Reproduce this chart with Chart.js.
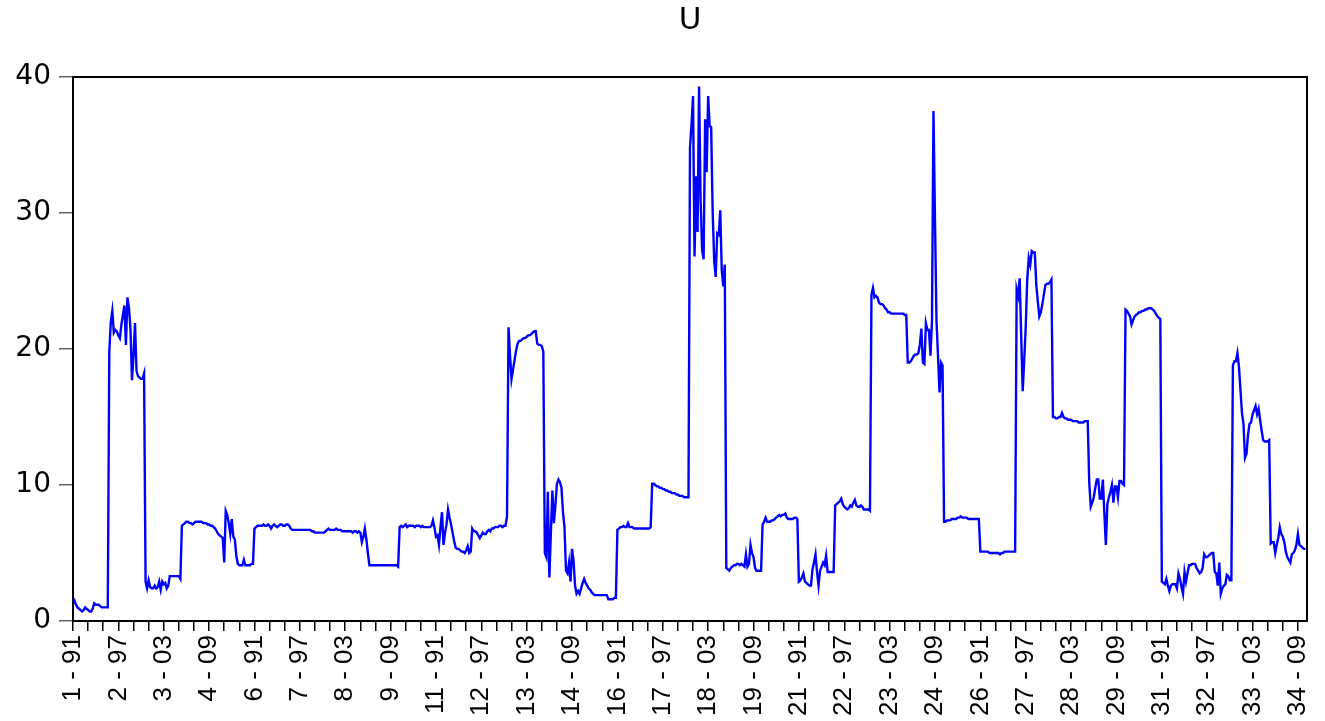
<!DOCTYPE html>
<html>
<head>
<meta charset="utf-8">
<script src="https://cdn.jsdelivr.net/npm/chart.js@4.4.1/dist/chart.umd.min.js"></script>
<style>
    html, body { margin: 0; padding: 0; background: #fff; }
    #wrap { width: 1325px; height: 721px; }
</style>
</head>
<body>
<div id="wrap"><canvas id="uChart" width="1325" height="721"></canvas></div>
<script>
// U, one array per cross-section, 24 yearly observations each (91 .. 14)
const sec01 = [1.3, 1.5, 1.2, 1.0, 0.9, 0.8, 0.7, 0.8, 1.0, 0.9, 0.8, 0.7, 0.7, 0.9, 1.3, 1.2, 1.2, 1.2, 1.1, 1.0, 1.0, 1.0, 1.0, 1.0];
const sec02 = [19.8, 22.0, 22.8, 21.2, 21.4, 21.3, 21.0, 20.8, 21.8, 22.5, 23.2, 20.3, 23.8, 23.0, 21.5, 17.7, 19.5, 21.9, 18.4, 18.0, 17.9, 17.8, 17.8, 18.2];
const sec03 = [2.9, 2.4, 3.0, 2.5, 2.4, 2.4, 2.6, 2.4, 2.5, 2.9, 2.3, 2.9, 2.7, 2.8, 2.4, 2.6, 3.3, 3.3, 3.3, 3.3, 3.3, 3.3, 3.3, 3.1];
const sec04 = [7.0, 7.1, 7.2, 7.3, 7.3, 7.2, 7.2, 7.1, 7.2, 7.3, 7.3, 7.3, 7.3, 7.3, 7.2, 7.2, 7.2, 7.1, 7.1, 7.0, 7.0, 6.9, 6.8, 6.6];
const sec05 = [6.4, 6.3, 6.2, 6.1, 4.3, 8.1, 7.8, 7.2, 6.4, 7.5, 6.2, 6.0, 4.8, 4.2, 4.1, 4.1, 4.1, 4.5, 4.1, 4.1, 4.1, 4.1, 4.2, 4.2];
const sec06 = [6.8, 6.9, 7.0, 7.0, 7.0, 7.0, 7.1, 7.0, 7.0, 7.1, 7.0, 6.8, 7.0, 7.1, 7.0, 6.9, 7.0, 7.1, 7.1, 7.0, 7.0, 7.1, 7.1, 7.0];
const sec07 = [6.8, 6.7, 6.7, 6.7, 6.7, 6.7, 6.7, 6.7, 6.7, 6.7, 6.7, 6.7, 6.7, 6.7, 6.6, 6.6, 6.5, 6.5, 6.5, 6.5, 6.5, 6.5, 6.5, 6.6];
const sec08 = [6.7, 6.8, 6.7, 6.7, 6.7, 6.7, 6.8, 6.7, 6.7, 6.7, 6.6, 6.6, 6.6, 6.6, 6.6, 6.6, 6.6, 6.5, 6.6, 6.6, 6.5, 6.6, 6.5, 5.8];
const sec09 = [6.2, 6.8, 6.0, 5.0, 4.1, 4.1, 4.1, 4.1, 4.1, 4.1, 4.1, 4.1, 4.1, 4.1, 4.1, 4.1, 4.1, 4.1, 4.1, 4.1, 4.1, 4.1, 4.1, 4.0];
const sec10 = [6.9, 7.0, 6.9, 7.0, 7.1, 6.9, 7.0, 7.0, 7.0, 7.0, 6.9, 7.0, 7.0, 7.0, 6.9, 7.0, 6.9, 6.9, 6.9, 6.9, 6.9, 7.0, 7.4, 6.9];
const sec11 = [6.2, 6.3, 5.6, 6.9, 8.0, 5.6, 6.5, 7.1, 8.2, 7.6, 7.1, 6.5, 5.9, 5.4, 5.3, 5.3, 5.2, 5.1, 5.1, 5.0, 5.2, 5.5, 5.0, 5.1];
const sec12 = [6.8, 6.6, 6.6, 6.5, 6.3, 6.1, 6.3, 6.5, 6.4, 6.4, 6.6, 6.7, 6.6, 6.8, 6.8, 6.9, 6.9, 6.9, 7.0, 7.0, 6.9, 7.0, 7.0, 7.7];
const sec13 = [21.6, 19.5, 17.8, 18.5, 19.2, 19.9, 20.4, 20.6, 20.6, 20.7, 20.8, 20.8, 20.9, 21.0, 21.0, 21.1, 21.2, 21.3, 21.3, 20.4, 20.3, 20.3, 20.2, 19.8];
const sec14 = [5.0, 4.7, 9.5, 3.2, 6.5, 9.6, 7.2, 8.5, 10.1, 10.4, 10.2, 9.8, 8.0, 6.9, 3.7, 3.5, 4.3, 2.9, 5.3, 4.4, 2.6, 2.0, 2.2, 2.0];
const sec15 = [2.4, 2.8, 3.1, 2.8, 2.6, 2.4, 2.3, 2.1, 2.0, 1.9, 1.9, 1.9, 1.9, 1.9, 1.9, 1.9, 1.9, 1.9, 1.6, 1.6, 1.6, 1.6, 1.7, 1.7];
const sec16 = [6.7, 6.8, 6.9, 6.9, 7.0, 6.9, 6.9, 7.2, 6.9, 6.9, 6.9, 6.8, 6.8, 6.8, 6.8, 6.8, 6.8, 6.8, 6.8, 6.8, 6.8, 6.8, 6.9, 10.1];
const sec17 = [10.1, 10.0, 9.9, 9.9, 9.8, 9.8, 9.7, 9.7, 9.6, 9.6, 9.5, 9.5, 9.4, 9.4, 9.4, 9.3, 9.3, 9.2, 9.2, 9.2, 9.1, 9.1, 9.1, 9.1];
const sec18 = [34.8, 36.5, 38.6, 26.8, 32.7, 28.6, 39.3, 31.0, 27.3, 26.6, 36.9, 33.0, 38.6, 36.4, 36.3, 30.0, 26.5, 25.3, 28.5, 28.4, 30.2, 25.8, 24.6, 26.2];
const sec19 = [3.9, 3.8, 3.7, 3.9, 4.0, 4.1, 4.1, 4.2, 4.2, 4.1, 4.2, 4.1, 4.0, 4.9, 4.0, 4.2, 5.6, 5.0, 4.7, 3.9, 3.7, 3.7, 3.7, 3.7];
const sec20 = [7.1, 7.3, 7.6, 7.3, 7.3, 7.3, 7.4, 7.4, 7.5, 7.6, 7.7, 7.8, 7.7, 7.8, 7.8, 7.9, 7.6, 7.5, 7.5, 7.5, 7.5, 7.6, 7.6, 7.5];
const sec21 = [2.9, 3.0, 3.2, 3.5, 2.9, 2.8, 2.7, 2.6, 2.6, 3.8, 4.3, 4.9, 3.6, 2.6, 3.7, 4.0, 4.3, 4.1, 4.8, 3.6, 3.6, 3.6, 3.6, 3.6];
const sec22 = [8.5, 8.6, 8.7, 8.8, 9.0, 8.6, 8.4, 8.3, 8.2, 8.3, 8.5, 8.4, 8.7, 8.9, 8.5, 8.4, 8.4, 8.5, 8.4, 8.2, 8.2, 8.2, 8.2, 8.1];
const sec23 = [24.0, 24.5, 23.8, 23.9, 23.8, 23.4, 23.3, 23.3, 23.2, 23.0, 22.9, 22.7, 22.7, 22.6, 22.6, 22.6, 22.6, 22.6, 22.6, 22.6, 22.6, 22.6, 22.5, 22.5];
const sec24 = [19.0, 19.0, 19.1, 19.3, 19.5, 19.6, 19.6, 19.7, 20.3, 21.5, 19.0, 18.9, 21.9, 21.4, 21.4, 19.5, 22.0, 37.5, 29.5, 22.1, 19.5, 16.8, 19.0, 18.8];
const sec25 = [7.3, 7.3, 7.4, 7.4, 7.4, 7.5, 7.5, 7.5, 7.5, 7.6, 7.6, 7.7, 7.6, 7.6, 7.6, 7.6, 7.5, 7.5, 7.5, 7.5, 7.5, 7.5, 7.5, 7.5];
const sec26 = [5.1, 5.1, 5.1, 5.1, 5.1, 5.1, 5.0, 5.0, 5.0, 5.0, 5.0, 5.0, 5.0, 4.9, 5.0, 5.0, 5.1, 5.1, 5.1, 5.1, 5.1, 5.1, 5.1, 5.1];
const sec27 = [24.4, 23.9, 25.2, 21.0, 16.9, 19.2, 21.6, 25.1, 26.7, 26.2, 27.2, 27.1, 27.1, 24.7, 23.5, 22.4, 22.7, 23.3, 24.0, 24.7, 24.8, 24.8, 24.9, 25.1];
const sec28 = [15.0, 15.0, 14.9, 14.9, 15.0, 15.0, 15.3, 15.0, 14.9, 14.9, 14.8, 14.8, 14.8, 14.7, 14.7, 14.7, 14.7, 14.6, 14.6, 14.6, 14.6, 14.7, 14.7, 14.7];
const sec29 = [10.2, 8.4, 8.7, 9.1, 9.8, 10.4, 10.4, 9.0, 9.0, 10.4, 7.9, 5.6, 8.6, 9.1, 9.5, 10.0, 8.7, 9.9, 9.9, 9.1, 10.3, 10.3, 10.1, 10.0];
const sec30 = [22.9, 22.8, 22.6, 22.4, 21.8, 22.1, 22.4, 22.5, 22.6, 22.7, 22.7, 22.8, 22.8, 22.9, 22.9, 23.0, 23.0, 23.0, 22.9, 22.8, 22.6, 22.4, 22.3, 22.2];
const sec31 = [2.9, 2.8, 2.7, 3.1, 2.6, 2.2, 2.6, 2.7, 2.7, 2.7, 2.4, 3.5, 3.1, 2.5, 2.0, 3.6, 2.9, 3.5, 4.1, 4.1, 4.2, 4.2, 4.2, 3.9];
const sec32 = [3.7, 3.5, 3.6, 3.9, 4.9, 4.7, 4.7, 4.8, 4.9, 5.0, 5.0, 3.6, 3.5, 2.6, 4.3, 2.0, 2.4, 2.6, 2.7, 3.4, 3.3, 3.0, 3.0, 18.8];
const sec33 = [19.1, 19.1, 19.7, 18.7, 17.0, 15.3, 14.5, 12.0, 12.3, 13.7, 14.5, 14.6, 15.2, 15.5, 15.8, 15.2, 15.6, 14.8, 14.0, 13.3, 13.2, 13.2, 13.2, 13.3];
const sec34 = [5.7, 5.8, 5.8, 5.0, 5.6, 6.1, 6.9, 6.4, 6.2, 5.8, 5.1, 4.7, 4.5, 4.3, 4.9, 5.0, 5.2, 5.6, 6.4, 5.6, 5.5, 5.4, 5.3, 5.3];

const sections = [sec01, sec02, sec03, sec04, sec05, sec06, sec07, sec08, sec09, sec10,
    sec11, sec12, sec13, sec14, sec15, sec16, sec17, sec18, sec19, sec20,
    sec21, sec22, sec23, sec24, sec25, sec26, sec27, sec28, sec29, sec30,
    sec31, sec32, sec33, sec34];

// labelled every 30 observations, minor tick every 10
const tickLabels = ['1 - 91', '2 - 97', '3 - 03', '4 - 09', '6 - 91', '7 - 97', '8 - 03', '9 - 09',
    '11 - 91', '12 - 97', '13 - 03', '14 - 09', '16 - 91', '17 - 97', '18 - 03', '19 - 09',
    '21 - 91', '22 - 97', '23 - 03', '24 - 09', '26 - 91', '27 - 97', '28 - 03', '29 - 09',
    '31 - 91', '32 - 97', '33 - 03', '34 - 09'];
const yTicks = [0, 10, 20, 30, 40];

const values = sections.flat();
const points = values.map((v, i) => ({ x: i, y: v }));

const sansFont = "'Liberation Sans', Arial, sans-serif";
const wideFont = "'DejaVu Sans', 'Liberation Sans', sans-serif";

// black box round the plot area
const framePlugin = {
    id: 'frame',
    afterDraw(chart) {
        const { ctx, chartArea: a } = chart;
        ctx.save();
        ctx.strokeStyle = '#000';
        ctx.lineWidth = 2;
        ctx.strokeRect(a.left, a.top, a.right - a.left, a.bottom - a.top);
        ctx.restore();
    }
};

new Chart(document.getElementById('uChart').getContext('2d'), {
    type: 'line',
    data: {
        datasets: [{
            label: 'U',
            data: points,
            borderColor: '#0000ff',
            borderWidth: 2.4,
            pointRadius: 0,
            tension: 0,
            fill: false
        }]
    },
    options: {
        responsive: false,
        animation: false,
        devicePixelRatio: 1,
        layout: { padding: { left: 0, right: 18, top: 0, bottom: 0 } },
        plugins: {
            legend: { display: false },
            tooltip: { enabled: false },
            title: {
                display: true,
                fullSize: false,
                text: 'U',
                color: '#000',
                font: { family: wideFont, size: 31, weight: 'normal', lineHeight: 1 },
                padding: { top: 5, bottom: 41 }
            }
        },
        scales: {
            x: {
                type: 'linear',
                min: 0,
                max: 816,
                afterFit: (scale) => {
                    scale.height = 100;
                    scale.paddingLeft = 0;
                    scale.paddingRight = 0;
                },
                border: { display: false },
                grid: { drawOnChartArea: false, drawTicks: true, tickLength: 10, color: '#000', lineWidth: 1.5 },
                ticks: {
                    stepSize: 10,
                    autoSkip: false,
                    includeBounds: false,
                    minRotation: 90,
                    maxRotation: 90,
                    padding: 4,
                    color: '#000',
                    font: { family: sansFont, size: 26 },
                    callback: (value) => (value % 30 === 0 ? tickLabels[value / 30] : '')
                }
            },
            y: {
                min: yTicks[0],
                max: yTicks[yTicks.length - 1],
                afterFit: (scale) => {
                    scale.width = 73;
                    scale.paddingTop = 0;
                    scale.paddingBottom = 0;
                },
                border: { display: false },
                grid: { drawOnChartArea: false, drawTicks: true, tickLength: 14, color: '#666', lineWidth: 1.5 },
                ticks: {
                    stepSize: 10,
                    padding: 8,
                    color: '#000',
                    font: { family: wideFont, size: 28 }
                }
            }
        }
    },
    plugins: [framePlugin]
});
</script>
</body>
</html>
